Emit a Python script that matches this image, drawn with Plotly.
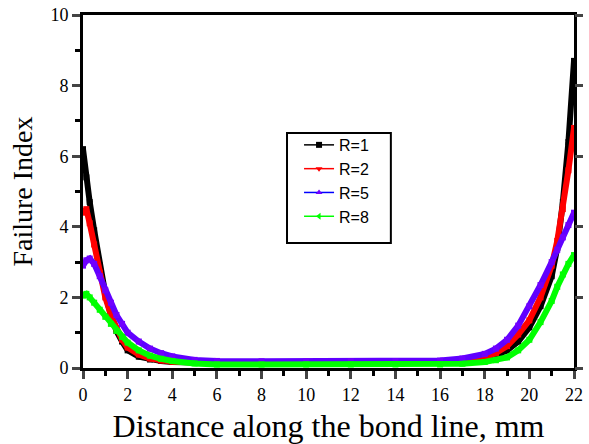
import plotly.graph_objects as go

x_pts = [0, 0.15, 0.3, 0.5, 0.75, 1.0, 1.25, 1.5, 1.75, 2.0, 2.5, 3.0, 3.5, 4.0, 5.0, 6.0, 8.0, 10.0,
         12.0, 14.0, 16.0, 17.0, 18.0, 18.5, 19.0, 19.5, 20.0, 20.5, 21.0, 21.25, 21.5, 21.75, 22.0]

r1 = [6.2, 5.4, 4.7, 3.9, 2.9, 2.1, 1.5, 1.05, 0.75, 0.5, 0.32, 0.24, 0.2, 0.17, 0.15, 0.14, 0.14, 0.14,
      0.14, 0.14, 0.15, 0.17, 0.25, 0.35, 0.5, 0.75, 1.15, 1.75, 2.6, 3.4, 4.7, 6.4, 8.7]
r2 = [4.4, 4.5, 4.1, 3.5, 2.7, 2.0, 1.5, 1.1, 0.8, 0.58, 0.38, 0.27, 0.21, 0.18, 0.16, 0.15, 0.15, 0.15,
      0.15, 0.15, 0.16, 0.2, 0.3, 0.42, 0.62, 0.95, 1.35, 2.0, 2.9, 3.6, 4.5, 5.6, 6.8]
r5 = [2.9, 3.05, 3.1, 2.95, 2.6, 2.2, 1.85, 1.5, 1.25, 1.0, 0.75, 0.55, 0.42, 0.33, 0.23, 0.2, 0.19, 0.19,
      0.19, 0.19, 0.21, 0.27, 0.4, 0.55, 0.8, 1.2, 1.75, 2.35, 3.0, 3.35, 3.7, 4.05, 4.4]
r8 = [2.05, 2.1, 2.0, 1.85, 1.65, 1.45, 1.25, 1.05, 0.88, 0.72, 0.5, 0.35, 0.26, 0.2, 0.13, 0.1, 0.1, 0.1,
      0.1, 0.1, 0.1, 0.12, 0.17, 0.22, 0.3, 0.5, 0.8, 1.3, 1.9, 2.3, 2.65, 2.95, 3.2]

series_names = ["R=1", "R=2", "R=5", "R=8"]
series_vals = [r1, r2, r5, r8]
curve_colors = ["#000000", "#ff0000", "#6000ff", "#00ff00"]
legend_colors = ["#000000", "#ff0000", "#0000ff", "#00ff00"]
marker_colors = ["#000000", "#ff0000", "#7000ff", "#00ff00"]
symbols = ["square", "triangle-down", "triangle-up", "triangle-left"]

x_ticks = list(range(0, 23, 2))
y_ticks = list(range(0, 11, 2))

fig = go.Figure()
for name, vals, c, mc in zip(series_names, series_vals, curve_colors, marker_colors):
    fig.add_trace(go.Scatter(x=x_pts, y=vals, mode="lines+markers", name=name, showlegend=False,
                             line=dict(color=c, width=6), marker=dict(color=mc, size=6, symbol="square")))
for name, c, mc, s in zip(series_names, legend_colors, marker_colors, symbols):
    fig.add_trace(go.Scatter(x=[None], y=[None], mode="lines+markers", name=name,
                             line=dict(color=c, width=1.5), marker=dict(color=mc, size=6, symbol=s)))
fig.add_trace(go.Scatter(x=[None], y=[None], yaxis="y2", showlegend=False, hoverinfo="skip"))

tickfont = dict(family="Liberation Serif, Times New Roman, serif", size=18, color="#000000")
fig.update_layout(
    width=589, height=444,
    margin=dict(l=83, r=15, t=15, b=76),
    paper_bgcolor="white", plot_bgcolor="white",
    xaxis=dict(range=[0, 22], tickvals=x_ticks, ticks="outside", ticklen=8, tickwidth=3,
               showline=True, linewidth=3, linecolor="black", mirror=True, automargin=False,
               showgrid=False, zeroline=False, tickfont=tickfont,
               minor=dict(dtick=1, ticks="outside", ticklen=5, tickwidth=2.5, tickcolor="black"),
               title=dict(text="Distance along the bond line, mm", standoff=12,
                          font=dict(family="Liberation Serif, Times New Roman, serif", size=32, color="black"))),
    yaxis=dict(range=[0, 10], tickvals=y_ticks, ticks="outside", ticklen=8, tickwidth=3,
               showline=True, linewidth=3, linecolor="black", mirror=True, automargin=False,
               showgrid=False, zeroline=False, tickfont=tickfont,
               minor=dict(dtick=1, ticks="outside", ticklen=5, tickwidth=2.5, tickcolor="black"),
               title=dict(text="Failure Index", standoff=10,
                          font=dict(family="Liberation Serif, Times New Roman, serif", size=28, color="black"))),
    yaxis2=dict(range=[0, 10], overlaying="y", side="right", tickvals=y_ticks, ticks="outside",
                ticklen=8, tickwidth=3, showticklabels=False, showline=False, showgrid=False,
                zeroline=False, automargin=False),
    legend=dict(x=0.44, y=0.68, xanchor="left", yanchor="top", bgcolor="rgba(0,0,0,0)",
                font=dict(family="Liberation Sans, Arial, sans-serif", size=16, color="black"),
                tracegroupgap=0),
    shapes=[dict(type="rect", xref="paper", yref="paper", x0=0.4155, x1=0.627, y0=0.354, y1=0.666,
                 line=dict(color="black", width=2), fillcolor="rgba(0,0,0,0)")],
)
fig.write_html("out.html")
